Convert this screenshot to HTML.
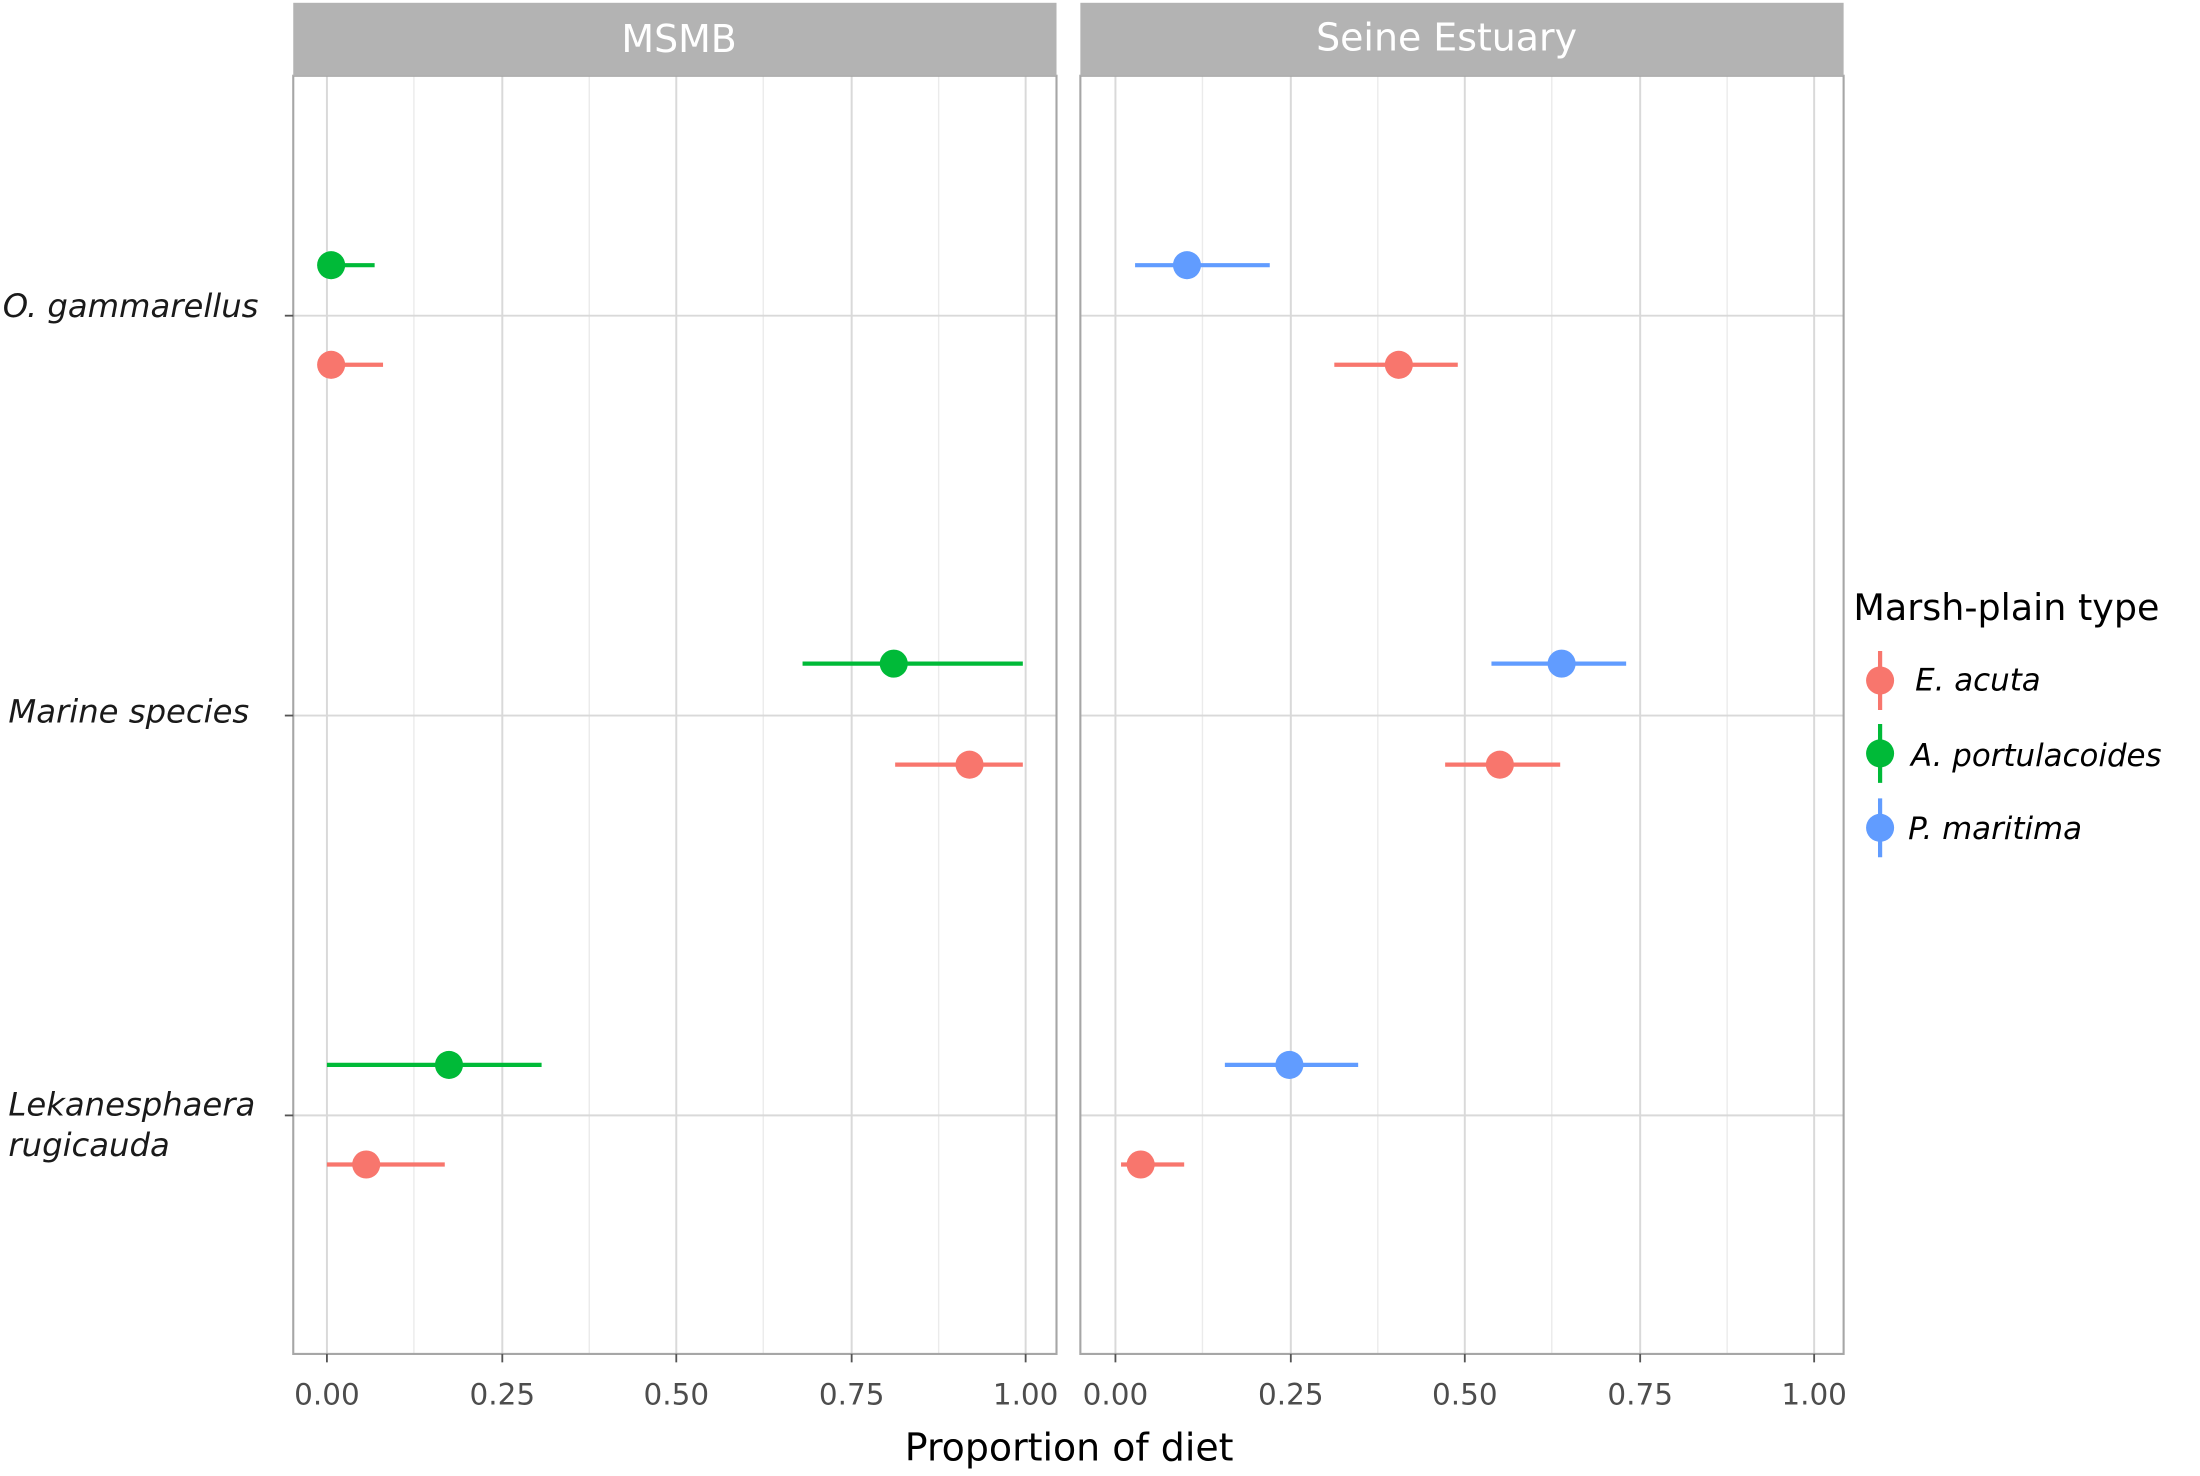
<!DOCTYPE html>
<html><head><meta charset="utf-8"><style>html,body{margin:0;padding:0;background:#fff}svg{display:block}</style></head><body>
<svg width="2200" height="1476" viewBox="0 0 1568 1052" xmlns="http://www.w3.org/2000/svg" font-family="'DejaVu Sans','Liberation Sans',sans-serif">
<rect width="1568" height="1052" fill="#fff"/>
<g stroke="#ebebeb" stroke-width="1">
<line x1="295" y1="54" x2="295" y2="965"/><line x1="420" y1="54" x2="420" y2="965"/><line x1="544" y1="54" x2="544" y2="965"/><line x1="669" y1="54" x2="669" y2="965"/>
<line x1="857" y1="54" x2="857" y2="965"/><line x1="982" y1="54" x2="982" y2="965"/><line x1="1106" y1="54" x2="1106" y2="965"/><line x1="1231" y1="54" x2="1231" y2="965"/>
</g>
<g stroke="#d9d9d9" stroke-width="1.4">
<line x1="233" y1="54" x2="233" y2="965"/><line x1="358" y1="54" x2="358" y2="965"/><line x1="482" y1="54" x2="482" y2="965"/><line x1="607" y1="54" x2="607" y2="965"/><line x1="731" y1="54" x2="731" y2="965"/>
<line x1="795" y1="54" x2="795" y2="965"/><line x1="920" y1="54" x2="920" y2="965"/><line x1="1044" y1="54" x2="1044" y2="965"/><line x1="1169" y1="54" x2="1169" y2="965"/><line x1="1293" y1="54" x2="1293" y2="965"/>
<line x1="209" y1="225" x2="753" y2="225"/><line x1="209" y1="510" x2="753" y2="510"/><line x1="209" y1="795" x2="753" y2="795"/>
<line x1="770" y1="225" x2="1314" y2="225"/><line x1="770" y1="510" x2="1314" y2="510"/><line x1="770" y1="795" x2="1314" y2="795"/>
</g>
<rect x="209" y="54" width="544" height="911" fill="none" stroke="#a6a6a6" stroke-width="1.5"/>
<rect x="770" y="54" width="544" height="911" fill="none" stroke="#a6a6a6" stroke-width="1.5"/>
<rect x="209" y="2" width="544" height="52" fill="#b3b3b3"/>
<rect x="770" y="2" width="544" height="52" fill="#b3b3b3"/>
<text x="484" y="37" fill="#fff" font-size="27" text-anchor="middle">MSMB</text>
<text x="1031" y="36" fill="#fff" font-size="27" text-anchor="middle">Seine Estuary</text>
<g stroke-width="3">
<line x1="233" y1="189" x2="267" y2="189" stroke="#00BA38"/><circle cx="236" cy="189" r="10" fill="#00BA38"/>
<line x1="233" y1="260" x2="273" y2="260" stroke="#F8766D"/><circle cx="236" cy="260" r="10" fill="#F8766D"/>
<line x1="572" y1="473" x2="729" y2="473" stroke="#00BA38"/><circle cx="637" cy="473" r="10" fill="#00BA38"/>
<line x1="638" y1="545" x2="729" y2="545" stroke="#F8766D"/><circle cx="691" cy="545" r="10" fill="#F8766D"/>
<line x1="233" y1="759" x2="386" y2="759" stroke="#00BA38"/><circle cx="320" cy="759" r="10" fill="#00BA38"/>
<line x1="233" y1="830" x2="317" y2="830" stroke="#F8766D"/><circle cx="261" cy="830" r="10" fill="#F8766D"/>
<line x1="809" y1="189" x2="905" y2="189" stroke="#619CFF"/><circle cx="846" cy="189" r="10" fill="#619CFF"/>
<line x1="951" y1="260" x2="1039" y2="260" stroke="#F8766D"/><circle cx="997" cy="260" r="10" fill="#F8766D"/>
<line x1="1063" y1="473" x2="1159" y2="473" stroke="#619CFF"/><circle cx="1113" cy="473" r="10" fill="#619CFF"/>
<line x1="1030" y1="545" x2="1112" y2="545" stroke="#F8766D"/><circle cx="1069" cy="545" r="10" fill="#F8766D"/>
<line x1="873" y1="759" x2="968" y2="759" stroke="#619CFF"/><circle cx="919" cy="759" r="10" fill="#619CFF"/>
<line x1="799" y1="830" x2="844" y2="830" stroke="#F8766D"/><circle cx="813" cy="830" r="10" fill="#F8766D"/>
</g>
<g stroke="#555" stroke-width="1.3">
<line x1="203" y1="225" x2="209" y2="225"/><line x1="203" y1="510" x2="209" y2="510"/><line x1="203" y1="795" x2="209" y2="795"/>
<line x1="233" y1="965" x2="233" y2="971"/><line x1="358" y1="965" x2="358" y2="971"/><line x1="482" y1="965" x2="482" y2="971"/><line x1="607" y1="965" x2="607" y2="971"/><line x1="731" y1="965" x2="731" y2="971"/>
<line x1="795" y1="965" x2="795" y2="971"/><line x1="920" y1="965" x2="920" y2="971"/><line x1="1044" y1="965" x2="1044" y2="971"/><line x1="1169" y1="965" x2="1169" y2="971"/><line x1="1293" y1="965" x2="1293" y2="971"/>
</g>
<g font-size="21" fill="#4d4d4d" text-anchor="middle">
<text x="233" y="1001">0.00</text><text x="358" y="1001">0.25</text><text x="482" y="1001">0.50</text><text x="607" y="1001">0.75</text><text x="731" y="1001">1.00</text>
<text x="795" y="1001">0.00</text><text x="920" y="1001">0.25</text><text x="1044" y="1001">0.50</text><text x="1169" y="1001">0.75</text><text x="1293" y="1001">1.00</text>
</g>
<g font-size="23" fill="#1a1a1a" font-style="italic">
<text x="2" y="226">O. gammarellus</text>
<text x="6" y="515">Marine species</text>
<text x="6" y="795">Lekanesphaera</text>
<text x="6" y="824">rugicauda</text>
</g>
<text x="762" y="1041" font-size="27" fill="#000" text-anchor="middle">Proportion of diet</text>
<text x="1321" y="442" font-size="26" fill="#000">Marsh-plain type</text>
<g stroke-width="3">
<line x1="1340" y1="464" x2="1340" y2="506" stroke="#F8766D"/><circle cx="1340" cy="485" r="10" fill="#F8766D"/>
<line x1="1340" y1="516" x2="1340" y2="558" stroke="#00BA38"/><circle cx="1340" cy="537" r="10" fill="#00BA38"/>
<line x1="1340" y1="569" x2="1340" y2="611" stroke="#619CFF"/><circle cx="1340" cy="590" r="10" fill="#619CFF"/>
</g>
<g font-size="22" fill="#000" font-style="italic">
<text x="1365" y="492">E. acuta</text>
<text x="1362" y="546">A. portulacoides</text>
<text x="1360" y="598">P. maritima</text>
</g>
</svg>
</body></html>
